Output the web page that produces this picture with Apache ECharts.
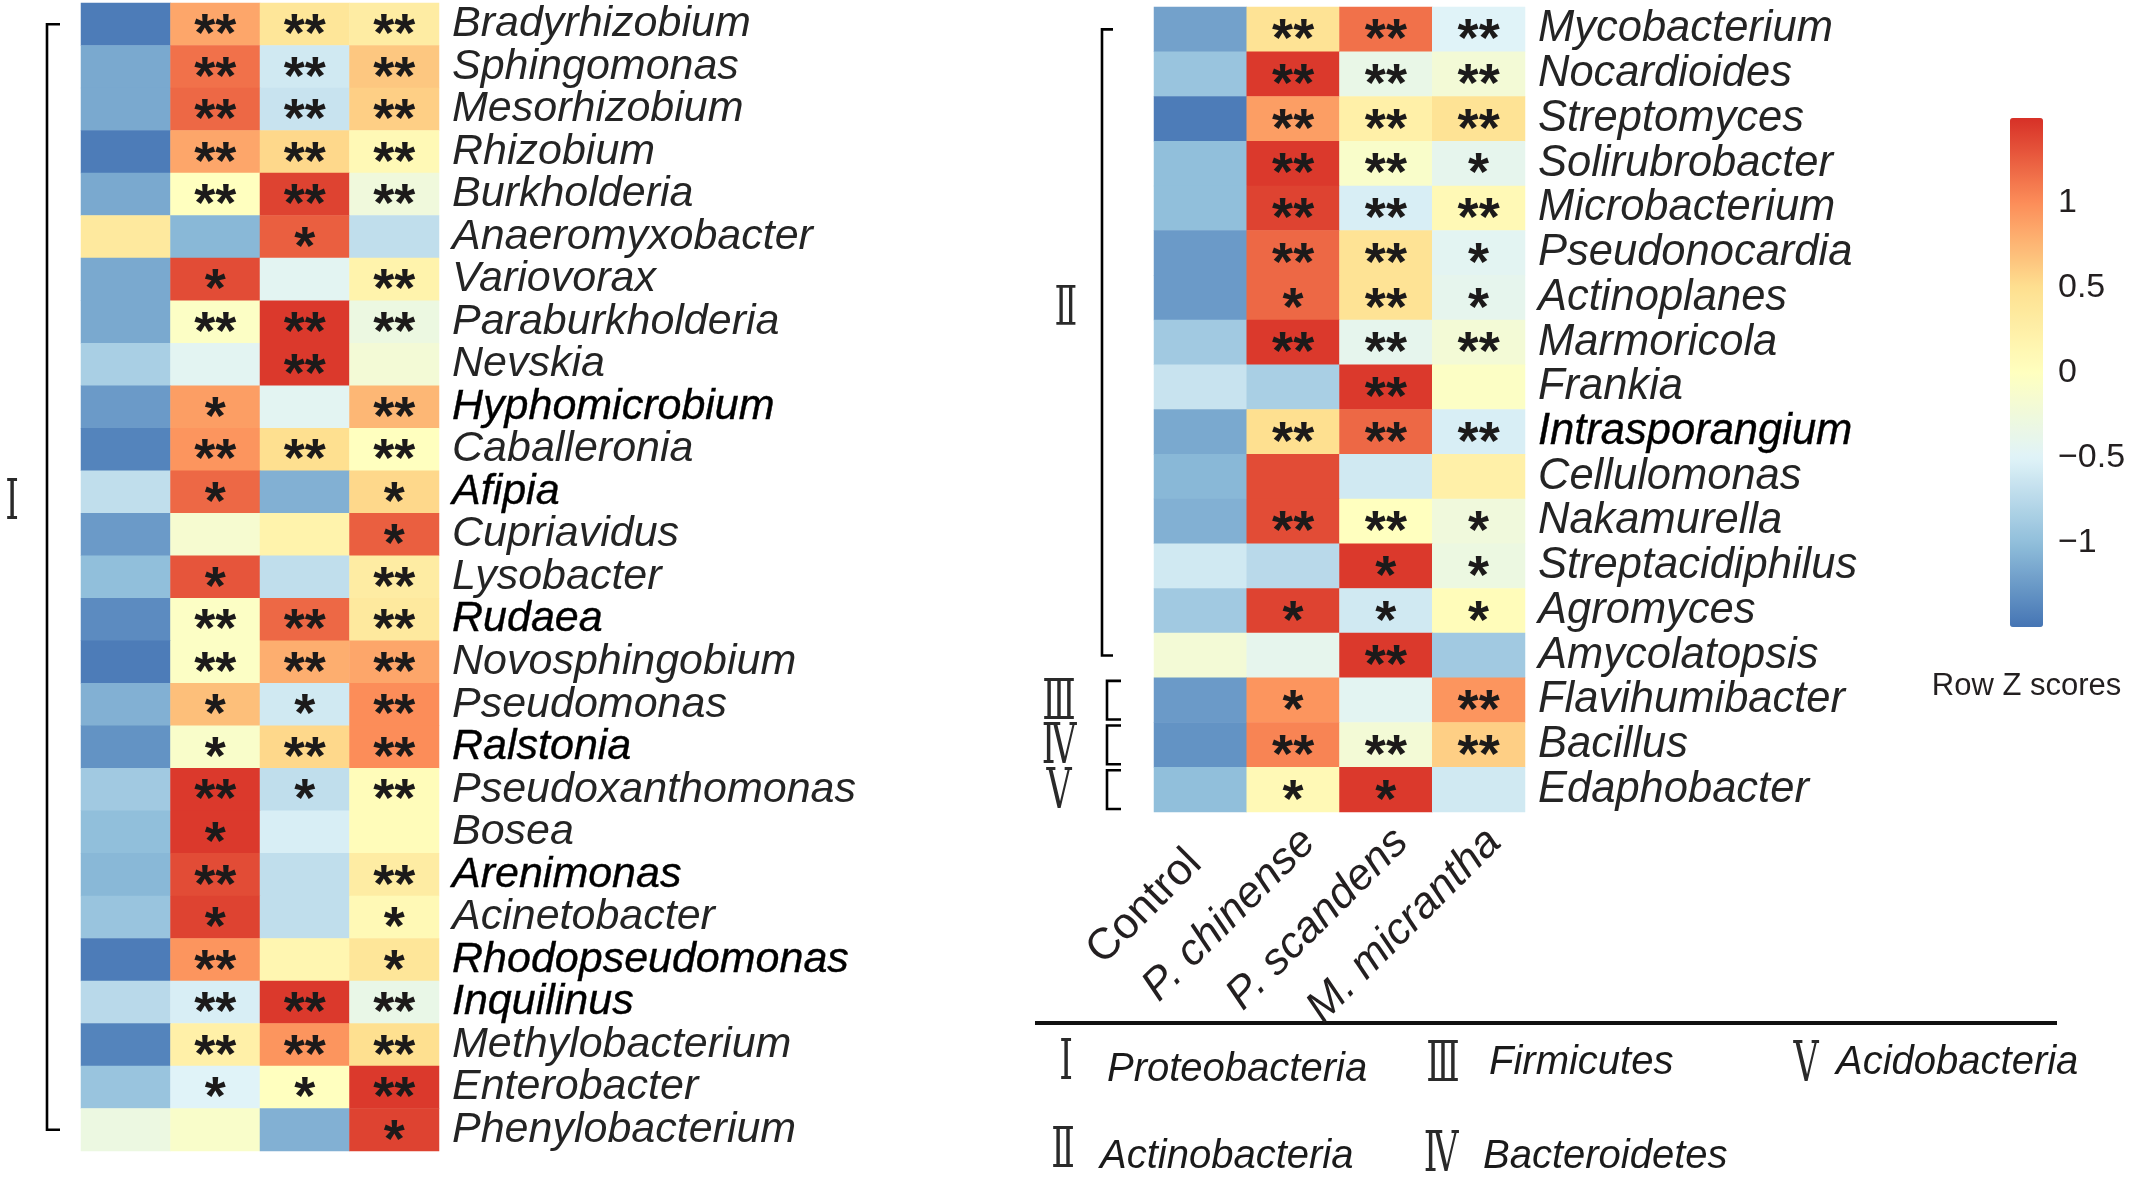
<!DOCTYPE html>
<html><head><meta charset="utf-8">
<script src="https://cdn.jsdelivr.net/npm/echarts@6/dist/echarts.min.js"></script>
<style>html,body{margin:0;padding:0;background:#fff}#c{width:2129px;height:1180px}</style>
</head><body><div id="c"></div>
<script>
// ---------- DATA ----------
const treatments = ['Control', 'P. chinense', 'P. scandens', 'M. micrantha'];

const leftGenera = ['Bradyrhizobium','Sphingomonas','Mesorhizobium','Rhizobium','Burkholderia','Anaeromyxobacter','Variovorax','Paraburkholderia','Nevskia','Hyphomicrobium','Caballeronia','Afipia','Cupriavidus','Lysobacter','Rudaea','Novosphingobium','Pseudomonas','Ralstonia','Pseudoxanthomonas','Bosea','Arenimonas','Acinetobacter','Rhodopseudomonas','Inquilinus','Methylobacterium','Enterobacter','Phenylobacterium'];
const leftControl   = [-1.45,-1.15,-1.15,-1.45,-1.15, 0.35,-1.15,-1.15,-0.85,-1.25,-1.40,-0.70,-1.25,-1.00,-1.35,-1.45,-1.10,-1.30,-0.90,-1.00,-1.05,-0.95,-1.45,-0.75,-1.40,-0.95,-0.30];
const leftChinense  = [ 0.85, 1.15, 1.20, 0.85, 0.00,-1.05, 1.35,-0.05,-0.45, 0.90, 0.95, 1.20,-0.15, 1.30,-0.05,-0.05, 0.70,-0.10, 1.45, 1.45, 1.35, 1.40, 0.95,-0.55, 0.25,-0.50,-0.10];
const leftScandens  = [ 0.40,-0.60,-0.65, 0.55, 1.40, 1.25,-0.45, 1.45, 1.45,-0.45, 0.50,-1.10, 0.20,-0.70, 1.20, 0.80,-0.60, 0.55,-0.70,-0.55,-0.70,-0.70, 0.15, 1.45, 0.95, 0.00,-1.10];
const leftMicrantha = [ 0.30, 0.65, 0.60, 0.10,-0.25,-0.70, 0.20,-0.30,-0.20, 0.75, 0.00, 0.55, 1.25, 0.30, 0.35, 0.85, 1.00, 1.00, 0.05, 0.05, 0.30, 0.10, 0.40,-0.35, 0.50, 1.45, 1.40];
const leftSigChinense  = ['**','**','**','**','**','','*','**','','*','**','*','','*','**','**','*','*','**','*','**','*','**','**','**','*',''];
const leftSigScandens  = ['**','**','**','**','**','*','','**','**','','**','','','','**','**','*','**','*','','','','','**','**','*',''];
const leftSigMicrantha = ['**','**','**','**','**','','**','**','','**','**','*','*','**','**','**','**','**','**','','**','*','*','**','**','**','*'];

const rightGenera = ['Mycobacterium','Nocardioides','Streptomyces','Solirubrobacter','Microbacterium','Pseudonocardia','Actinoplanes','Marmoricola','Frankia','Intrasporangium','Cellulomonas','Nakamurella','Streptacidiphilus','Agromyces','Amycolatopsis','Flavihumibacter','Bacillus','Edaphobacter'];
const rightControl   = [-1.20,-0.95,-1.45,-1.00,-1.00,-1.25,-1.25,-0.90,-0.65,-1.15,-1.05,-1.10,-0.60,-0.90,-0.20,-1.25,-1.30,-1.00];
const rightChinense  = [ 0.45, 1.45, 0.90, 1.45, 1.40, 1.20, 1.20, 1.45,-0.85, 0.50, 1.35, 1.35,-0.75, 1.40,-0.40, 0.95, 1.05, 0.10];
const rightScandens  = [ 1.15,-0.35, 0.25,-0.10,-0.55, 0.45, 0.45,-0.40, 1.45, 1.20,-0.60, 0.00, 1.45,-0.60, 1.45,-0.45,-0.20, 1.45];
const rightMicrantha = [-0.50,-0.20, 0.45,-0.40, 0.10,-0.45,-0.40,-0.20,-0.05,-0.55, 0.25,-0.25,-0.30, 0.05,-0.90, 0.95, 0.60,-0.60];
const rightSigChinense  = ['**','**','**','**','**','**','*','**','','**','','**','','*','','*','**','*'];
const rightSigScandens  = ['**','**','**','**','**','**','**','**','**','**','','**','*','*','**','','**','*'];
const rightSigMicrantha = ['**','**','**','*','**','*','*','**','','**','','*','*','*','','**','**',''];

const heavyNames = ['Hyphomicrobium','Afipia','Rudaea','Ralstonia','Arenimonas','Rhodopseudomonas','Inquilinus','Intrasporangium'];

const colorbarTicks = [-1, -0.5, 0, 0.5, 1];
const zMin = -1.5, zMax = 1.5;
const palette = ['#4575B4','#91BFDB','#E0F3F8','#FFFFBF','#FEE090','#FC8D59','#D73027'];

// groups: [numeral, first row, last row]
const leftGroups = [['Ⅰ', 0, 26]];
const rightGroups = [['Ⅱ', 0, 14], ['Ⅲ', 15, 15], ['Ⅳ', 16, 16], ['Ⅴ', 17, 17]];
const phylumLegend = [['Ⅰ','Proteobacteria'],['Ⅱ','Actinobacteria'],['Ⅲ','Firmicutes'],['Ⅳ','Bacteroidetes'],['Ⅴ','Acidobacteria']];

// ---------- BUILD ----------
function build(genera, cols, sigs) {
  const d = [];
  genera.forEach((g, i) => {
    cols.forEach((arr, j) => {
      d.push([j, i, arr[i], j === 0 ? '' : sigs[j - 1][i]]);
    });
  });
  return d;
}
const leftData = build(leftGenera, [leftControl, leftChinense, leftScandens, leftMicrantha], [leftSigChinense, leftSigScandens, leftSigMicrantha]);
const rightData = build(rightGenera, [rightControl, rightChinense, rightScandens, rightMicrantha], [rightSigChinense, rightSigScandens, rightSigMicrantha]);

const FONT = 'Liberation Sans, Arial, sans-serif';
const TXT = '#231f20';
function nameRich(size) {
  return {
    n: { fontFamily: FONT, fontSize: size, fontStyle: 'italic', color: '#242424' },
    h: { fontFamily: FONT, fontSize: size, fontStyle: 'italic', color: '#000', textBorderColor: '#000', textBorderWidth: 0.4 }
  };
}
const nameFmt = v => heavyNames.includes(v) ? '{h|' + v + '}' : '{n|' + v + '}';

const starLabel = {
  show: true,
  formatter: p => p.data[3],
  fontFamily: FONT, fontWeight: 'bold', fontSize: 54, color: '#1c1a1a',
  offset: [0, 12]
};

const cb = { left: 2010, top: 118, width: 33, height: 509 };

const option = {
  animation: false,
  backgroundColor: '#fff',
  grid: [
    { left: 81, top: 3, width: 358, height: 1148 },
    { left: 1154, top: 7, width: 371, height: 805 },
    { left: cb.left, top: cb.top, width: cb.width, height: cb.height }
  ],
  xAxis: [
    { gridIndex: 0, type: 'category', data: treatments, show: false },
    { gridIndex: 1, type: 'category', data: treatments, position: 'bottom',
      axisLine: { show: false }, axisTick: { show: false }, splitLine: { show: false },
      axisLabel: { interval: 0, rotate: 45, margin: 8, align: 'right', verticalAlign: 'top',
        formatter: v => v === 'Control' ? '{u|' + v + '}' : '{i|' + v + '}',
        rich: { u: { fontFamily: FONT, fontSize: 44, color: TXT, padding: [0, 30, 0, 0] },
                i: { fontFamily: FONT, fontSize: 44, fontStyle: 'italic', color: TXT } } } },
    { gridIndex: 2, type: 'category', data: ['z'], show: false }
  ],
  yAxis: [
    { gridIndex: 0, type: 'category', data: leftGenera, inverse: true, position: 'right',
      axisLine: { show: false }, axisTick: { show: false }, splitLine: { show: false },
      axisLabel: { interval: 0, margin: 13, formatter: nameFmt, rich: nameRich(43) } },
    { gridIndex: 1, type: 'category', data: rightGenera, inverse: true, position: 'right',
      axisLine: { show: false }, axisTick: { show: false }, splitLine: { show: false },
      axisLabel: { interval: 0, margin: 13, formatter: nameFmt, rich: nameRich(43.5) } },
    { gridIndex: 2, type: 'value', min: zMin, max: zMax, interval: 0.5, position: 'right',
      axisLine: { show: false }, axisTick: { show: false }, splitLine: { show: false },
      axisLabel: { margin: 15, fontFamily: FONT, fontSize: 34, color: TXT,
        formatter: v => colorbarTicks.some(t => Math.abs(t - v) < 1e-9) ? String(v).replace('-', '\u2212') : '' } }
  ],
  visualMap: {
    type: 'continuous', min: zMin, max: zMax, seriesIndex: [0, 1], dimension: 2,
    orient: 'vertical', left: cb.left, top: cb.top, itemWidth: cb.width, itemHeight: cb.height,
    padding: 0, calculable: false, hoverLink: false, text: ['', ''], showLabel: false,
    inRange: { color: palette }
  },
  series: [
    { type: 'heatmap', xAxisIndex: 0, yAxisIndex: 0, data: leftData, label: starLabel,
      itemStyle: { borderWidth: 0 }, emphasis: { disabled: true } },
    { type: 'heatmap', xAxisIndex: 1, yAxisIndex: 1, data: rightData, label: starLabel,
      itemStyle: { borderWidth: 0 }, emphasis: { disabled: true } },
    { type: 'scatter', xAxisIndex: 2, yAxisIndex: 2, data: [], silent: true }
  ]
};

const chart = echarts.init(document.getElementById('c'), null, { renderer: 'canvas' });
chart.setOption(option);

// ---------- ANNOTATIONS (brackets, numerals, legend) ----------
const ROMAN_FONT = '"DejaVu Serif", "Liberation Serif", serif';
function rowGeom(xi, yi, genera) {
  const a = chart.convertToPixel({ xAxisIndex: xi, yAxisIndex: yi }, [0, 0]);
  const b = chart.convertToPixel({ xAxisIndex: xi, yAxisIndex: yi }, [1, genera.length - 1]);
  const colW = b[0] - a[0];
  const rowH = (b[1] - a[1]) / (genera.length - 1);
  return { left: a[0] - colW / 2, y0: a[1], rowH };
}
const gL = rowGeom(0, 0, leftGenera);
const gR = rowGeom(1, 1, rightGenera);
const graphics = [];
function roman(t, cx, cy, size) {
  graphics.push({ type: 'text', x: cx, y: cy, scaleX: 0.62,
    style: { text: t, fill: '#2a2a2a', font: '300 ' + size + 'px ' + ROMAN_FONT, align: 'center', verticalAlign: 'middle' } });
}
function bracket(xv, xt, y1, y2) {
  graphics.push({ type: 'polyline', shape: { points: [[xt, y1], [xv, y1], [xv, y2], [xt, y2]] },
    style: { stroke: '#000', lineWidth: 2.6, fill: null } });
}
leftGroups.forEach(([t, r1, r2]) => {
  const y1 = gL.y0 + r1 * gL.rowH, y2 = gL.y0 + r2 * gL.rowH;
  bracket(gL.left - 34, gL.left - 21, y1, y2);
  roman(t, gL.left - 69, gL.y0 + 11.3 * gL.rowH, 56);
});
rightGroups.forEach(([t, r1, r2], k) => {
  if (k === 0) {
    const y1 = gR.y0 + r1 * gR.rowH, y2 = gR.y0 + r2 * gR.rowH;
    bracket(gR.left - 52, gR.left - 41, y1, y2);
    roman(t, gR.left - 88, gR.y0 + 6.3 * gR.rowH, 54);
  } else {
    const y1 = gR.y0 + (r1 - 0.5) * gR.rowH + 3, y2 = gR.y0 + (r2 + 0.5) * gR.rowH - 3;
    bracket(gR.left - 47, gR.left - 33, y1, y2);
    roman(t, gR.left - 95, gR.y0 + r1 * gR.rowH + 4, 56);
  }
});
graphics.push({ type: 'text', x: cb.left + cb.width / 2, y: 686,
  style: { text: 'Row Z scores', fill: TXT, font: '31px ' + FONT, align: 'center', verticalAlign: 'middle' } });
graphics.push({ type: 'line', shape: { x1: 1035, y1: 1023, x2: 2057, y2: 1023 }, style: { stroke: '#111', lineWidth: 4 } });
const legendPos = [[1066, 1064, 1107, 1070], [1063, 1152, 1100, 1157], [1443, 1066, 1489, 1063], [1441, 1156, 1483, 1157], [1806, 1066, 1836, 1063]];
phylumLegend.forEach(([t, name], i) => {
  const p = legendPos[i];
  roman(t, p[0], p[1], 56);
  graphics.push({ type: 'text', x: p[2], y: p[3],
    style: { text: name, fill: '#1a1a1a', font: 'italic 40px ' + FONT, align: 'left', verticalAlign: 'middle' } });
});
chart.setOption({ graphic: graphics });
</script>
</body></html>
